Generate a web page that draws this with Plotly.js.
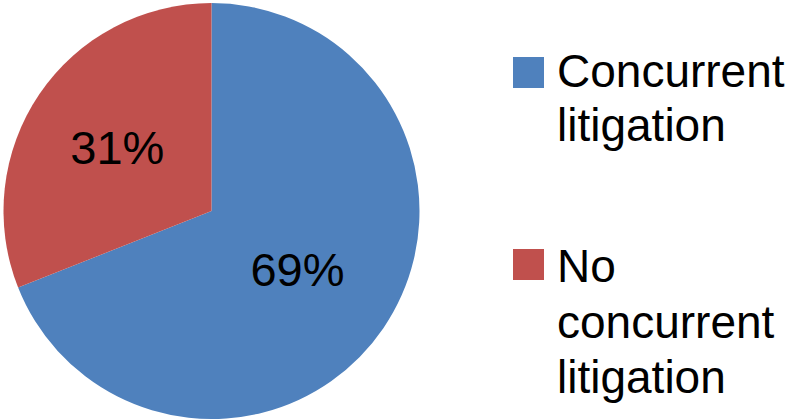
<!DOCTYPE html>
<html>
<head>
<meta charset="utf-8">
<script src="https://cdn.plot.ly/plotly-3.0.1.min.js"></script>
<style>html,body{margin:0;padding:0;background:#fff;}#chart{width:796px;height:420px;}</style>
</head>
<body>
<div id="chart"></div>
<script>
// Data
const labels = ["Concurrent litigation", "No concurrent litigation"];
const legendLines = [["Concurrent", "litigation"], ["No", "concurrent", "litigation"]];
const values = [69, 31];
const colors = ["#4F81BD", "#C0504D"];

// Layout constants (pixels)
const W = 796, H = 420;
const pyToPaper = py => 1 - py / H;
const legendFontSize = 46;
const legendSquareTops = [57, 249];
const legendBaselines = [[87, 141], [282, 338, 393]];

const trace = {
  type: "pie",
  labels: labels,
  values: values,
  sort: false,
  direction: "clockwise",
  rotation: 0,
  marker: { colors: colors, line: { width: 0 } },
  textinfo: "percent",
  texttemplate: "%{percent:.0%}",
  textposition: "inside",
  insidetextorientation: "horizontal",
  textfont: { family: "Liberation Sans, Arial, sans-serif", size: 47, color: "#000000" },
  hoverinfo: "none",
  domain: { x: [3.5 / W, 419.5 / W], y: [1 / H, 417 / H] }
};

const shapes = [];
const annotations = [];
labels.forEach((lab, i) => {
  const t = legendSquareTops[i];
  shapes.push({
    type: "rect", xref: "paper", yref: "paper",
    x0: 513 / W, x1: 544 / W, y0: pyToPaper(t + 31), y1: pyToPaper(t),
    fillcolor: colors[i], line: { width: 0 }
  });
  legendLines[i].forEach((ln, j) => {
    annotations.push({
      xref: "paper", yref: "paper",
      x: 555 / W, y: pyToPaper(legendBaselines[i][j] - 0.344 * legendFontSize),
      xanchor: "left", yanchor: "middle",
      text: ln, showarrow: false,
      font: { family: "Liberation Sans, Arial, sans-serif", size: legendFontSize, color: "#000000" }
    });
  });
});

const layout = {
  width: W, height: H,
  margin: { l: 0, r: 0, t: 0, b: 0 },
  paper_bgcolor: "#ffffff",
  showlegend: false,
  shapes: shapes,
  annotations: annotations,
  font: { family: "Liberation Sans, Arial, sans-serif" }
};

Plotly.newPlot("chart", [trace], layout, { staticPlot: true, displayModeBar: false });
</script>
</body>
</html>
